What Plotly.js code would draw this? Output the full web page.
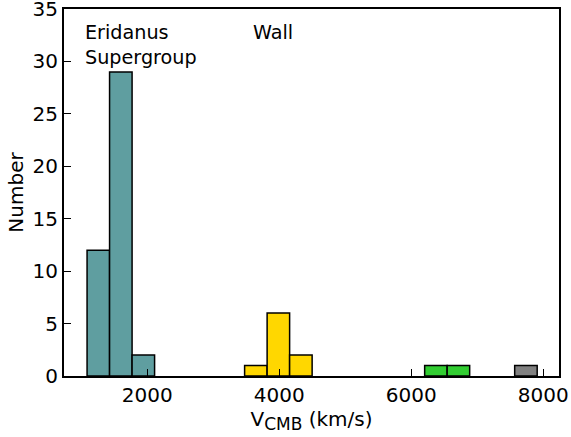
<!DOCTYPE html>
<html><head><meta charset="utf-8">
<script src="https://cdn.plot.ly/plotly-3.0.1.min.js"></script>
<style>html,body{margin:0;padding:0;background:#fff}</style>
</head><body>
<div id="chart" style="width:571px;height:437px"></div>
<script>
const binWidth = 341;
const eridanusCenters = [1258, 1599, 1940];
const eridanusCounts = [12, 29, 2];
const wallCenters = [3645, 3986, 4327];
const wallCounts = [1, 6, 2];
const greenCenters = [6373, 6714];
const greenCounts = [1, 1];
const grayCenters = [7737];
const grayCounts = [1];
const xTicks = [2000, 4000, 6000, 8000];
const yTicks = [0, 5, 10, 15, 20, 25, 30, 35];
const labels = [
  {text: "Eridanus<br>Supergroup", x: 1030, y: 34.05},
  {text: "Wall", x: 3575, y: 34.05}
];

function barTrace(xs, ys, color) {
  return {type: 'bar', x: xs, y: ys, width: xs.map(() => binWidth),
    marker: {color: color, line: {color: '#000', width: 1.5}}, hoverinfo: 'skip'};
}
const data = [
  barTrace(eridanusCenters, eridanusCounts, '#5f9ea0'),
  barTrace(wallCenters, wallCounts, '#ffd700'),
  barTrace(greenCenters, greenCounts, '#32cd32'),
  barTrace(grayCenters, grayCounts, '#808080')
];
const font = {family: 'DejaVu Sans', size: 20, color: '#000'};
const layout = {
  width: 571, height: 437,
  margin: {l: 64, r: 12, t: 9, b: 61},
  paper_bgcolor: '#fff', plot_bgcolor: '#fff',
  showlegend: false, barmode: 'overlay', bargap: 0,
  font: font,
  xaxis: {range: [738, 8238], tickvals: xTicks, ticktext: xTicks.map(String),
    ticks: 'inside', ticklen: 7, tickwidth: 1.2, tickcolor: '#000',
    showline: true, linecolor: '#000', linewidth: 2, mirror: true,
    showgrid: false, zeroline: false, tickfont: font, ticklabeloverflow: 'allow',
    title: {text: 'V<sub><span style="font-size:17px">CMB</span></sub> (km/s)', font: font, standoff: 2}},
  yaxis: {range: [0, 35], tickvals: yTicks, ticktext: yTicks.map(String),
    ticks: 'inside', ticklen: 7, tickwidth: 1.2, tickcolor: '#000',
    showline: true, linecolor: '#000', linewidth: 2, mirror: true,
    showgrid: false, zeroline: false, tickfont: font, ticklabeloverflow: 'allow',
    title: {text: 'Number', font: font, standoff: 4}},
  annotations: labels.map(l => ({text: l.text, x: l.x, y: l.y, xref: 'x', yref: 'y',
    xanchor: 'left', yanchor: 'top', showarrow: false, align: 'left',
    font: {family: 'DejaVu Sans', size: 19.2, color: '#000'}}))
};
Plotly.newPlot('chart', data, layout, {displayModeBar: false, staticPlot: true});
</script>
</body></html>
